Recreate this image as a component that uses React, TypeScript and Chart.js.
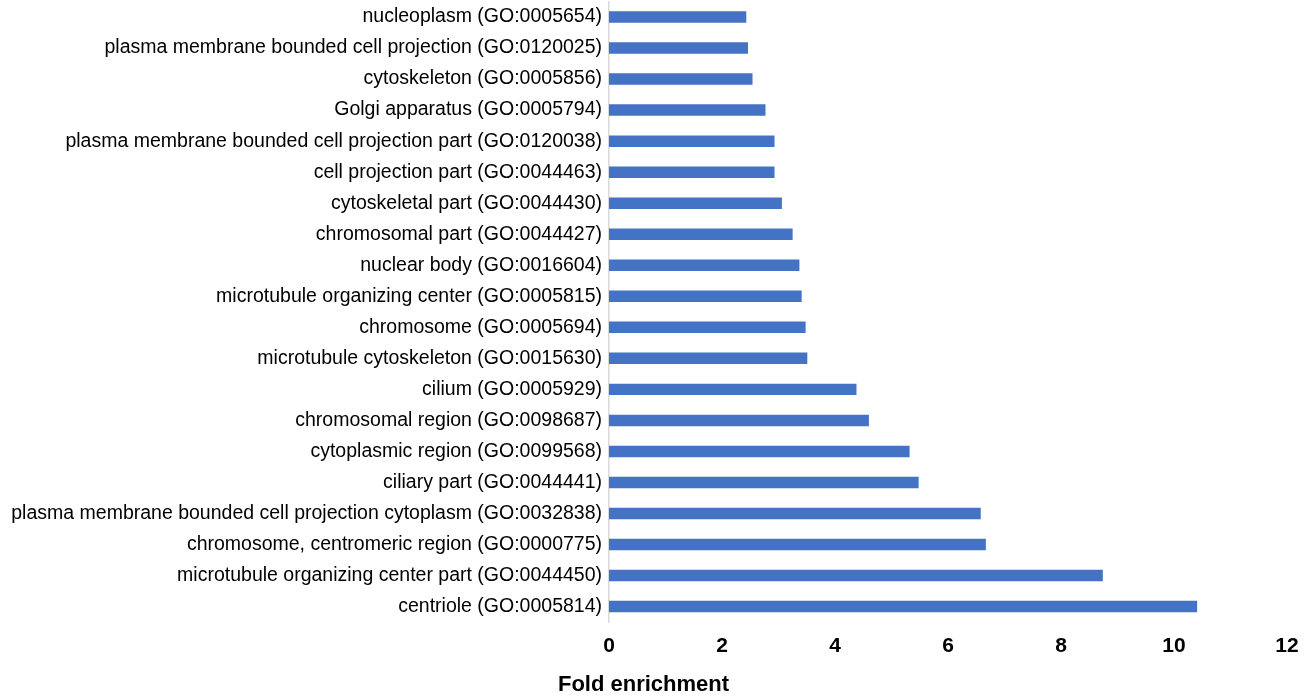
import React, { useEffect, useRef } from "react";
import { Chart, registerables } from "chart.js";

Chart.register(...registerables);

const categories: string[] = [
  "nucleoplasm (GO:0005654)",
  "plasma membrane bounded cell projection (GO:0120025)",
  "cytoskeleton (GO:0005856)",
  "Golgi apparatus (GO:0005794)",
  "plasma membrane bounded cell projection part (GO:0120038)",
  "cell projection part (GO:0044463)",
  "cytoskeletal part (GO:0044430)",
  "chromosomal part (GO:0044427)",
  "nuclear body (GO:0016604)",
  "microtubule organizing center (GO:0005815)",
  "chromosome (GO:0005694)",
  "microtubule cytoskeleton (GO:0015630)",
  "cilium (GO:0005929)",
  "chromosomal region (GO:0098687)",
  "cytoplasmic region (GO:0099568)",
  "ciliary part (GO:0044441)",
  "plasma membrane bounded cell projection cytoplasm (GO:0032838)",
  "chromosome, centromeric region (GO:0000775)",
  "microtubule organizing center part (GO:0044450)",
  "centriole (GO:0005814)",
];

const foldEnrichment: number[] = [
  2.43, 2.46, 2.54, 2.77, 2.93, 2.93, 3.06, 3.25, 3.37, 3.41, 3.48, 3.51,
  4.38, 4.6, 5.32, 5.48, 6.58, 6.67, 8.74, 10.41,
];

const xTickMin = 0;
const xTickMax = 12;
const xTickStep = 2;
const axisTitle = "Fold enrichment";

const FONT = "Liberation Sans, Arial, sans-serif";

export default function App() {
  const ref = useRef<HTMLCanvasElement | null>(null);

  useEffect(() => {
    document.body.style.margin = "0";
    if (!ref.current) return;
    const chart = new Chart(ref.current, {
      type: "bar",
      data: {
        labels: categories,
        datasets: [
          {
            label: axisTitle,
            data: foldEnrichment,
            backgroundColor: "#4472C4",
            borderWidth: 0,
            categoryPercentage: 1,
            barPercentage: 0.37,
          },
        ],
      },
      options: {
        indexAxis: "y",
        animation: false,
        responsive: false,
        maintainAspectRatio: false,
        layout: { padding: { top: 1.5, right: 26, left: 0, bottom: 0 } },
        plugins: {
          legend: { display: false },
          tooltip: { enabled: false },
          title: {
            display: true,
            text: axisTitle,
            position: "bottom",
            color: "#000",
            font: { family: FONT, size: 22, weight: "bold" },
            padding: { top: 1.5, bottom: 0 },
          },
        },
        scales: {
          x: {
            min: xTickMin,
            max: xTickMax,
            ticks: {
              stepSize: xTickStep,
              color: "#000",
              padding: 11.4,
              font: { family: FONT, size: 21, weight: "bold" },
            },
            grid: { display: false, drawTicks: false },
            border: { display: false },
          },
          y: {
            afterFit: (scale: any) => {
              scale.width = 609;
              scale.paddingTop = 0;
              scale.paddingBottom = 0;
            },
            ticks: {
              color: "#000",
              padding: 7,
              font: { family: FONT, size: 19.5 },
            },
            grid: { display: false, drawTicks: false },
            border: { display: true, color: "#d9d9d9", width: 1.5 },
          },
        },
      },
    });
    return () => chart.destroy();
  }, []);

  return (
    <div style={{ width: 1313, height: 698 }}>
      <canvas ref={ref} width={1313} height={698} style={{ display: "block" }} />
    </div>
  );
}
